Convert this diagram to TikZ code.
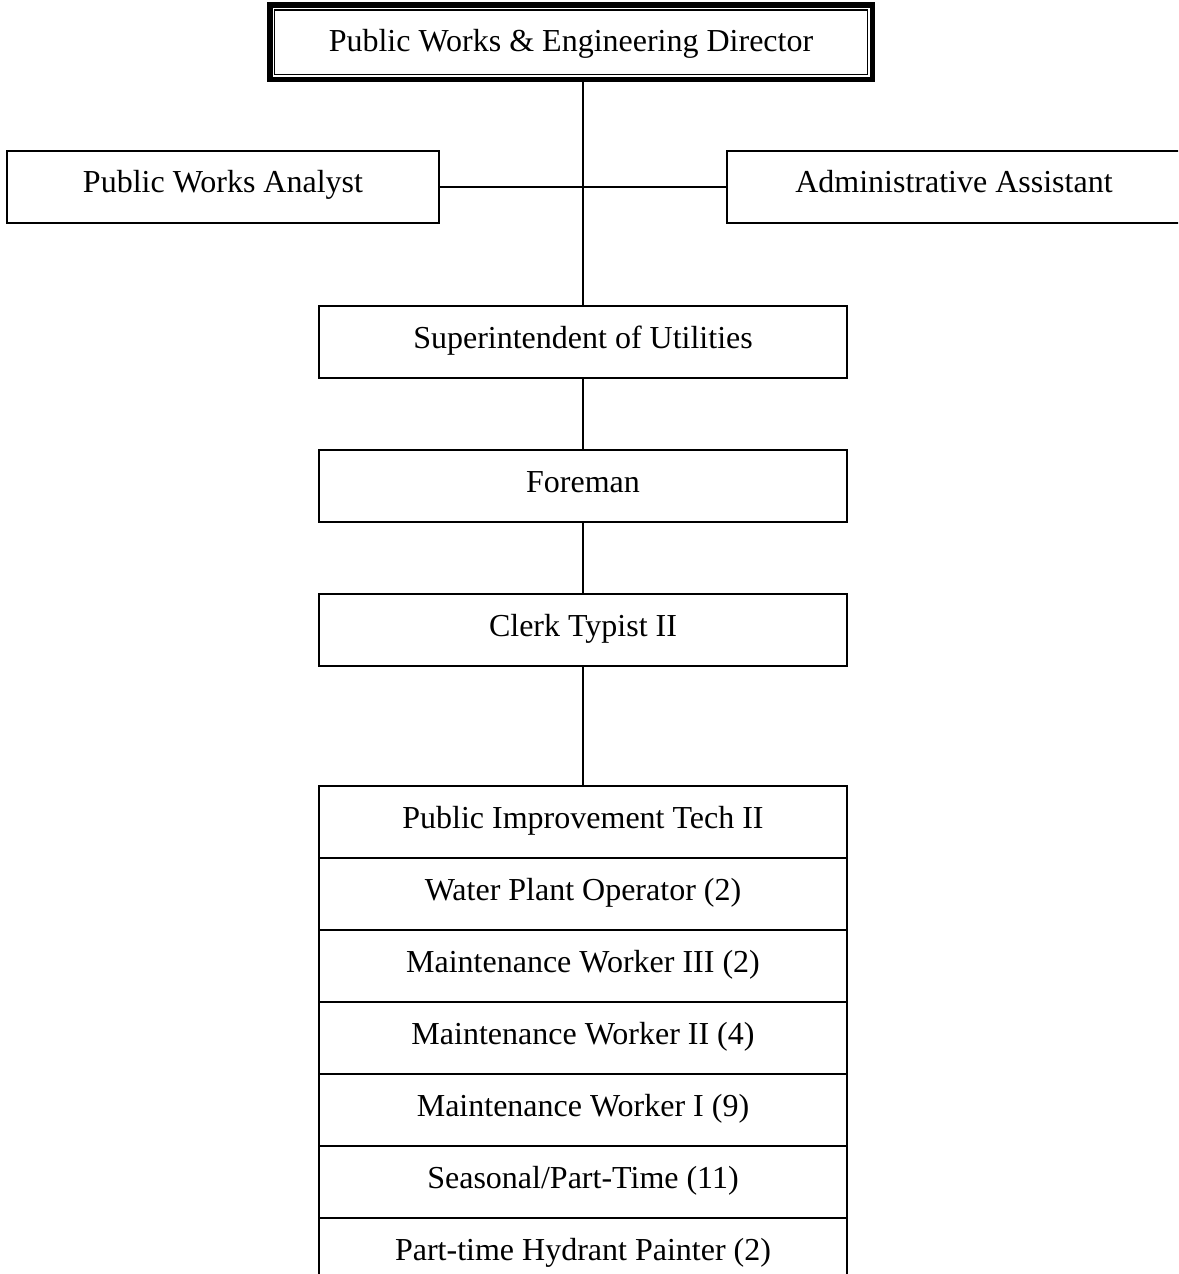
\documentclass[tikz,border=0pt]{standalone}
\usepackage{fontspec}
\setmainfont{Liberation Serif}
\usetikzlibrary{positioning}

\begin{document}
\begin{tikzpicture}[x=0.5pt,y=-0.5pt,box/.style={draw,line width=1pt,minimum width=264pt,minimum height=36pt,inner sep=0pt,outer sep=0pt,text height=11pt,text depth=5pt,font=\fontsize{16}{19}\selectfont},link/.style={line width=1pt}]
\clip (0,0) rectangle (1178,1274);
\node[box,line width=2.75pt,minimum width=301.25pt,minimum height=37.25pt,text height=15pt,text depth=6pt] (dir) at (571,42.25) {Public Works \& Engineering Director};
\draw[line width=.75pt] ([shift={(2.4pt,-2.4pt)}]dir.north west) rectangle ([shift={(-2.4pt,2.4pt)}]dir.south east);
\node[box,minimum width=216pt] (analyst) at (223,186.5) {Public Works Analyst};
\node[box,minimum width=227pt] (admin) at (954,186.5) {Administrative Assistant};
\node[box] (sup) at (583,342) {Superintendent of Utilities};
\node[box,below=36pt of sup] (foreman) {Foreman};
\node[box,below=36pt of foreman] (clerk) {Clerk Typist II};
% staff list
\node[box,below=60pt of clerk] (r1) {Public Improvement Tech II};
\node[box,below=0pt of r1] (r2) {Water Plant Operator (2)};
\node[box,below=0pt of r2] (r3) {Maintenance Worker III (2)};
\node[box,below=0pt of r3] (r4) {Maintenance Worker II (4)};
\node[box,below=0pt of r4] (r5) {Maintenance Worker I (9)};
\node[box,below=0pt of r5] (r6) {Seasonal/Part-Time (11)};
\node[box,below=0pt of r6] (r7) {Part-time Hydrant Painter (2)};
\draw[link](sup.north)--(sup.north |- dir.south);
\draw[link](analyst)--(admin);
\draw[link](sup)--(foreman);\draw[link](foreman)--(clerk);\draw[link](clerk)--(r1);
\end{tikzpicture}
\end{document}
